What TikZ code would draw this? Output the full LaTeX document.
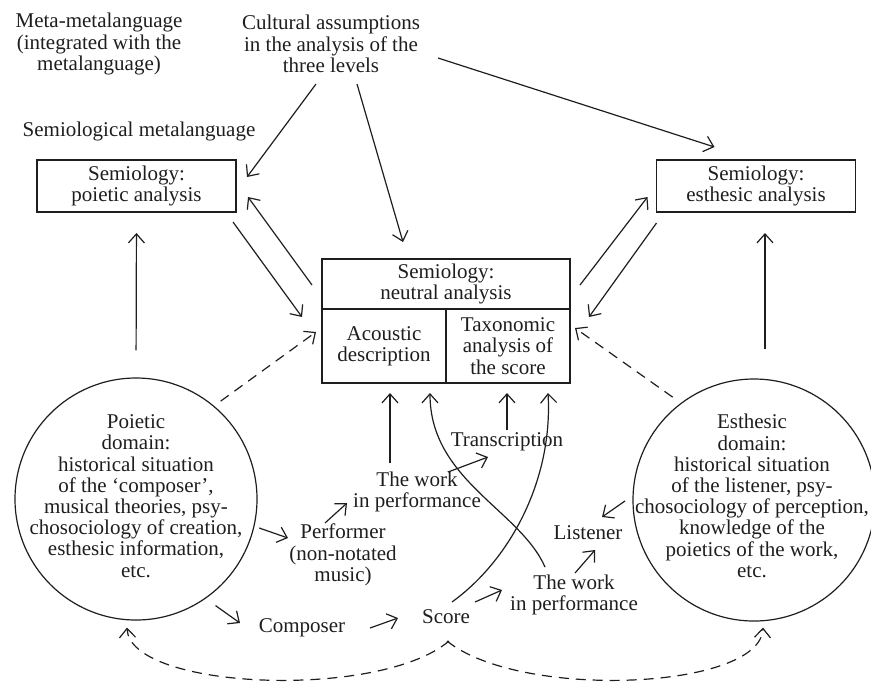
\documentclass[tikz,border=0pt]{standalone}
\usepackage{fontspec}
\setmainfont{Liberation Serif}
\usetikzlibrary{arrows.meta, positioning}
\definecolor{ink}{RGB}{30,30,30}
\tikzset{
    line cap=round,
    line join=round,
    semibox/.style={
        rectangle,
        draw=ink,
        line width=0.6pt,
        inner sep=0pt,
        outer sep=0pt,
        align=center,
        text=ink
    },
    domaincircle/.style={
        circle,
        draw=ink,
        line width=0.6pt,
        minimum size=121pt,
        inner sep=0pt
    },
    caption/.style={
        align=center,
        text=ink,
        inner sep=1pt
    },
    flow/.style={
        -{Straight Barb[length=4.5pt,width=8pt]},
        draw=ink,
        line width=0.6pt
    },
    dashflow/.style={
        flow,
        dash pattern=on 5pt off 3.5pt
    }
}

\begin{document}
\begin{tikzpicture}[
    x=0.5pt, y=-0.5pt,
    every node/.style={font=\fontsize{10.5}{10.6}\selectfont}
]
\useasboundingbox (0,0) rectangle (871,682);

% --- Headings ---
\node[caption] (meta) at (99,44) {Meta-metalanguage\\(integrated with the\\metalanguage)};
\node[caption] (cultural) at (331,44) {Cultural assumptions\\in the analysis of the\\three levels};
\node[caption] (semmeta) at (139,131) {Semiological metalanguage};

% --- Semiology boxes ---
\node[semibox, minimum width=99.5pt, minimum height=26pt] (poiBox) at (136.5,186) {Semiology:\\poietic analysis};
\node[semibox, minimum width=99.5pt, minimum height=26pt] (estBox) at (756,186) {Semiology:\\esthesic analysis};
\node[semibox, minimum width=124pt, minimum height=25pt] (neutral) at (446,284) {Semiology:\\neutral analysis};
\node[semibox, minimum width=62pt, minimum height=37pt] (acoustic) at (384,346) {Acoustic\\description};
\node[semibox, minimum width=62pt, minimum height=37pt] (taxonomic) at (508,346) {Taxonomic\\analysis of\\the score};

% --- Domains ---
\node[domaincircle] (poietic) at (136,499) {};
\node[caption] (poieticText) at (136,496) {Poietic\\domain:\\historical situation\\of the ‘composer’,\\musical theories, psy-\\chosociology of creation,\\esthesic information,\\etc.};
\node[domaincircle] (esthesic) at (754,500) {};
\node[caption] (esthesicText) at (752,496) {Esthesic\\domain:\\historical situation\\of the listener, psy-\\chosociology of perception,\\knowledge of the\\poietics of the work,\\etc.};

% --- Middle labels ---
\node[caption] (workA) at (417,492) {The work\\in performance};
\node[caption] (transcr) at (507,442) {Transcription};
\node[caption] (performer) at (343,555) {Performer\\(non-notated\\music)};
\node[caption] (composer) at (302,628) {Composer};
\node[caption] (score) at (446,617) {Score};
\node[caption] (workB) at (574,595) {The work\\in performance};
\node[caption] (listener) at (588,533) {Listener};

% --- Cultural assumptions ---
\draw[flow] ([shift={(-15,40)}]cultural.center) -- ([shift={(11,17)}]poiBox.north east);
\draw[flow] ([shift={(26,40)}]cultural.center) -- ([shift={(-43,-17)}]neutral.north);
\draw[flow] ([shift={(107,14)}]cultural.center) -- ([shift={(58,-13)}]estBox.north west);

% --- Between the analyses ---
\draw[flow] ([shift={(-10,1)}]neutral.west) -- ([shift={(12,11)}]poiBox.east);
\draw[flow] ([shift={(-3,10)}]poiBox.south east) -- ([shift={(-20,8)}]acoustic.north west);
\draw[flow] ([shift={(10,1)}]neutral.east) -- ([shift={(-9,11)}]estBox.west);
\draw[flow] ([shift={(0,11)}]estBox.south west) -- ([shift={(19,8)}]taxonomic.north east);
\draw[dashflow, shorten <=4pt] (poietic.50) -- ([shift={(-6,-14)}]acoustic.west);
\draw[dashflow, shorten <=5pt] (esthesic.127) -- ([shift={(5,-18)}]taxonomic.east);
\draw[flow, shorten <=13.5pt, shorten >=10.5pt] (poietic.north) -- (poiBox.south);
\draw[flow] ([shift={(11,-29)}]esthesic.north) -- ([shift={(9,21)}]estBox.south);

% --- Into the neutral level ---
\draw[flow] ([shift={(-27,-29)}]workA.center) -- ([shift={(6,10)}]acoustic.south);
\draw[flow] ([shift={(-29,-28)}]workB.center) .. controls (520,510) and (430,480) .. ([shift={(46,10)}]acoustic.south);
\draw[flow] ([shift={(0,-12)}]transcr.center) -- ([shift={(-1,10)}]taxonomic.south);
\draw[flow] ([shift={(6,-15)}]score.center) .. controls (510,560) and (553,480) .. ([shift={(40,10)}]taxonomic.south);

% --- Production and reception ---
\draw[flow] ([shift={(31,-20)}]workA.center) -- ([shift={(-19,15)}]transcr.center);
\draw[flow] ([shift={(-18,-32)}]performer.center) -- ([shift={(-70,11)}]workA.center);
\draw[flow, shorten <=2.5pt] (poietic.-13) -- ([shift={(-55,-17)}]performer.center);
\draw[flow, shorten <=6pt] (poietic.-55) -- ([shift={(-62,-5)}]composer.center);
\draw[flow] ([shift={(68,0)}]composer.center) -- ([shift={(-48,1)}]score.center);
\draw[flow] ([shift={(29,-15)}]score.center) -- ([shift={(-72,-5)}]workB.center);
\draw[flow] ([shift={(1,-22)}]workB.center) -- ([shift={(7,17)}]listener.center);
\draw[flow, shorten <=4.5pt] (esthesic.178) -- ([shift={(14,-16)}]listener.center);

% --- Feedback from the score ---
\draw[dashflow] ([shift={(3,24)}]score.center) .. controls (380,700) and (130,690) .. ([shift={(-9,7)}]poietic.south);
\draw[dashflow] ([shift={(1,24)}]score.center) .. controls (520,700) and (760,690) .. ([shift={(9,6)}]esthesic.south);

\end{tikzpicture}
\end{document}
